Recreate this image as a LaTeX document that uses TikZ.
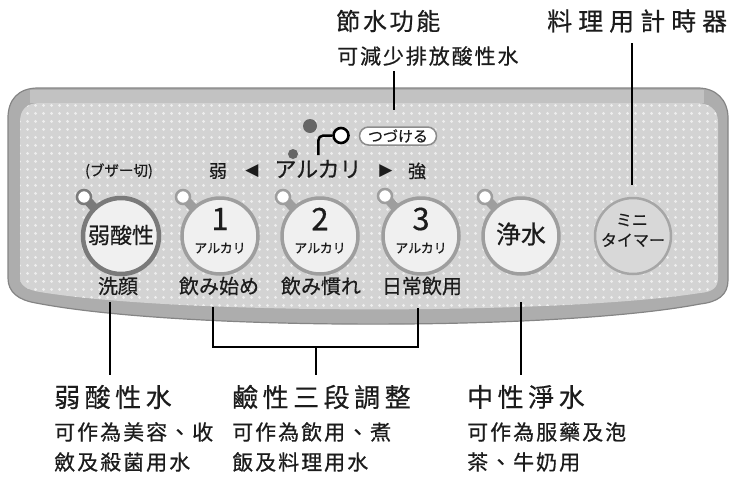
\documentclass[tikz,border=0pt]{standalone}
\usepackage{fontspec}
\newfontfamily\jpf[FakeBold=0.5]{Noto Sans CJK JP}
\newfontfamily\tcf[FakeBold=0.6]{Noto Sans CJK TC}
\newfontfamily\symf{DejaVu Sans}
\usetikzlibrary{patterns.meta}
\definecolor{ink}{HTML}{1C1C1C}
\definecolor{panelout}{HTML}{ADADAD}
\definecolor{panelrim}{HTML}{858585}
\definecolor{paneltop}{HTML}{C2C2C2}
\definecolor{panelin}{HTML}{D3D3D3}
\definecolor{paneldot}{HTML}{EEEEEE}
\definecolor{btnfill}{HTML}{F0F0F0}
\definecolor{btnring}{HTML}{9E9E9E}
\definecolor{btnringdark}{HTML}{7A7A7A}
\definecolor{timerfill}{HTML}{D8D8D8}
\definecolor{timerring}{HTML}{A6A6A6}
\definecolor{ledgray}{HTML}{666666}
\definecolor{pillrim}{HTML}{8C8C8C}
\tikzdeclarepattern{
  name=paneldots,
  type=uncolored,
  bottom left={(0pt,0pt)},
  top right={(8pt,8pt)},
  tile size={(8pt,8pt)},
  code={\fill (4pt,4pt) circle [radius=1.8pt];}
}
\def\spc#1#2{\def\spck{\kern#1}\spcl#2\relax}
\def\spcl#1{\ifx\relax#1\else#1\spck\expandafter\spcl\fi}
\tikzset{
  lead/.style={draw=black, line width=2.8pt},
  btn/.style={circle, minimum size=76pt, inner sep=0pt, fill=btnfill, draw=btnring, line width=3.5pt},
  led/.style={circle, minimum size=14pt, inner sep=0pt, fill=white, draw=btnring, line width=2.5pt},
  stem/.style={draw=btnring, line width=9pt},
  jp/.style={font=\jpf\fontsize{#1}{#1}\selectfont, text=ink, inner sep=0pt},
  sym/.style={font=\symf\fontsize{#1}{#1}\selectfont, text=ink, inner sep=0pt},
  headb/.style={font=\tcf\fontsize{#1}{#1}\selectfont, anchor=west, inner sep=0pt, text=ink},
  sub/.style={font=\tcf\fontsize{21}{30}\selectfont, align=left, anchor=west, inner sep=0pt, text=ink}
}
\begin{document}
\begin{tikzpicture}[x=1pt,y=-1pt]
\useasboundingbox (0,0) rectangle (731,477);
% panel
\path[fill=panelout, draw=panelrim, line width=1.2pt]
  (8,118) .. controls (8,100) and (18,88) .. (38,88) -- (698,88)
  .. controls (716,88) and (728,100) .. (728,118) -- (728,280)
  .. controls (728,295) and (718,302) .. (700,304)
  .. controls (560,331) and (180,331) .. (36,303)
  .. controls (18,300) and (8,292) .. (8,278) -- cycle;
\fill[paneltop] (30,90) -- (704,90) -- (704,103) -- (30,103) -- cycle;
\path[fill=panelin, postaction={pattern=paneldots, pattern color=paneldot}]
  (20,122) .. controls (20,110) and (26,103) .. (40,103) -- (696,103)
  .. controls (710,103) and (718,110) .. (718,122) -- (718,278)
  .. controls (718,288) and (712,292) .. (700,293)
  .. controls (560,315) and (180,315) .. (40,292)
  .. controls (28,290) and (20,286) .. (20,278) -- cycle;
% button centres and LED centres
\coordinate (cw) at (121,236); \coordinate (lwc) at (84,197);
\coordinate (c1) at (220,236); \coordinate (l1c) at (183,197);
\coordinate (c2) at (320,236); \coordinate (l2c) at (283,197);
\coordinate (c3) at (421,236); \coordinate (l3c) at (385,196);
\coordinate (cp) at (521,236); \coordinate (lpc) at (485,197);
\coordinate (ct) at (633,236);
% stems
\draw[stem, draw=btnringdark] (lwc) -- (cw);
\draw[stem] (l1c) -- (c1);
\draw[stem] (l2c) -- (c2);
\draw[stem] (l3c) -- (c3);
\draw[stem] (lpc) -- (cp);
% buttons
\node[btn, draw=btnringdark, line width=4.5pt] (bw) at (cw) {};
\node[btn] (b1) at (c1) {};
\node[btn] (b2) at (c2) {};
\node[btn] (b3) at (c3) {};
\node[btn] (bp) at (cp) {};
\node[btn, fill=timerfill, draw=timerring, line width=2.5pt] (bt) at (ct) {};
% LEDs
\node[led, draw=btnringdark] (lw) at (lwc) {};
\node[led] (l1) at (l1c) {};
\node[led] (l2) at (l2c) {};
\node[led] (l3) at (l3c) {};
\node[led] (lp) at (lpc) {};
% button texts
\node[jp=22] (tw) at (121,235) {弱酸性};
\node[jp=31] (n1) at (220,219) {1};
\node[jp=13] (a1) at (220,248) {アルカリ};
\node[jp=31] (n2) at (320,219) {2};
\node[jp=13] (a2) at (320,248) {アルカリ};
\node[jp=31] (n3) at (421,219) {3};
\node[jp=13] (a3) at (421,248) {アルカリ};
\node[jp=25] (tp) at (521,234) {浄水};
\node[jp=16] (tt1) at (632,220) {ミニ};
\node[jp=16] (tt2) at (633,240) {タイマー};
% labels under buttons
\node[jp=20] (uw) at (118,286) {洗顔};
\node[jp=20] (u1) at (219,286) {飲み始め};
\node[jp=20] (u2) at (321,286) {飲み慣れ};
\node[jp=20] (u3) at (422,286) {日常飲用};
% upper row
\node[jp=14.5] (buz) at (119,171) {(ブザー切)};
\node[jp=18] (weak) at (218,171) {弱};
\node[sym=17] (tl) at (252,171) {◀};
\node[jp=22] (alk) at (318,169) {アルカリ};
\node[sym=17] (tr) at (386,171) {▶};
\node[jp=18] (strong) at (417,171) {強};
\node[circle, fill=ledgray, minimum size=14pt, inner sep=0pt] (dbig) at (310,126) {};
\node[circle, fill=ledgray, minimum size=10pt, inner sep=0pt] (dsmall) at (293,154) {};
\node[circle, draw=black, fill=white, line width=2.6pt, minimum size=15pt, inner sep=0pt] (hring) at (341,135.5) {};
\coordinate (hookend) at (318.3,155);
\draw[line width=2.5pt, rounded corners=5pt] (hookend) |- (hring.west);
\node[draw=pillrim, fill=white, rounded corners=9pt, minimum width=77pt, minimum height=18pt, line width=1.5pt, jp=15] (pill) at (398,136) {つづける};
% top labels
\node[headb=24] (hsave) at (336,21) {\spc{2.7pt}{節水功能}};
\node[headb=21] (ssave) at (337,56) {\spc{1.9pt}{可減少排放酸性水}};
\node[headb=25] (htimer) at (547,21) {\spc{6pt}{料理用計時器}};
% bottom labels
\node[headb=26] (hacid) at (54,397) {\spc{4.5pt}{弱酸性水}};
\node[sub] (sacid) at (54,447) {\spc{2pt}{可作為美容、收}\\\spc{2pt}{斂及殺菌用水}};
\node[headb=26] (halk) at (232,397) {\spc{4.5pt}{鹼性三段調整}};
\node[sub] (salk) at (232,447) {\spc{2pt}{可作為飲用、煮}\\\spc{2pt}{飯及料理用水}};
\node[headb=26] (hneu) at (467,397) {\spc{4.5pt}{中性淨水}};
\node[sub] (sneu) at (467,447) {\spc{2pt}{可作為服藥及泡}\\\spc{2pt}{茶、牛奶用}};
% leader lines
\coordinate (ls1) at (394,71); \coordinate (ls2) at (394,110);
\draw[lead] (ls1) -- (ls2);
\coordinate (lt1) at (632,43); \coordinate (lt2) at (632,185);
\draw[lead] (lt1) -- (lt2);
\coordinate (la1) at (110,302); \coordinate (la2) at (110,375);
\draw[lead] (la1) -- (la2);
\coordinate (lb1) at (213,307); \coordinate (lb2) at (418,308);
\coordinate (lbm) at (316,347); \coordinate (lb3) at (316,375);
\draw[lead] (lb1) |- (lbm) -| (lb2);
\draw[lead] (lbm) -- (lb3);
\coordinate (ln1) at (521,302); \coordinate (ln2) at (521,375);
\draw[lead] (ln1) -- (ln2);
\end{tikzpicture}
\end{document}
